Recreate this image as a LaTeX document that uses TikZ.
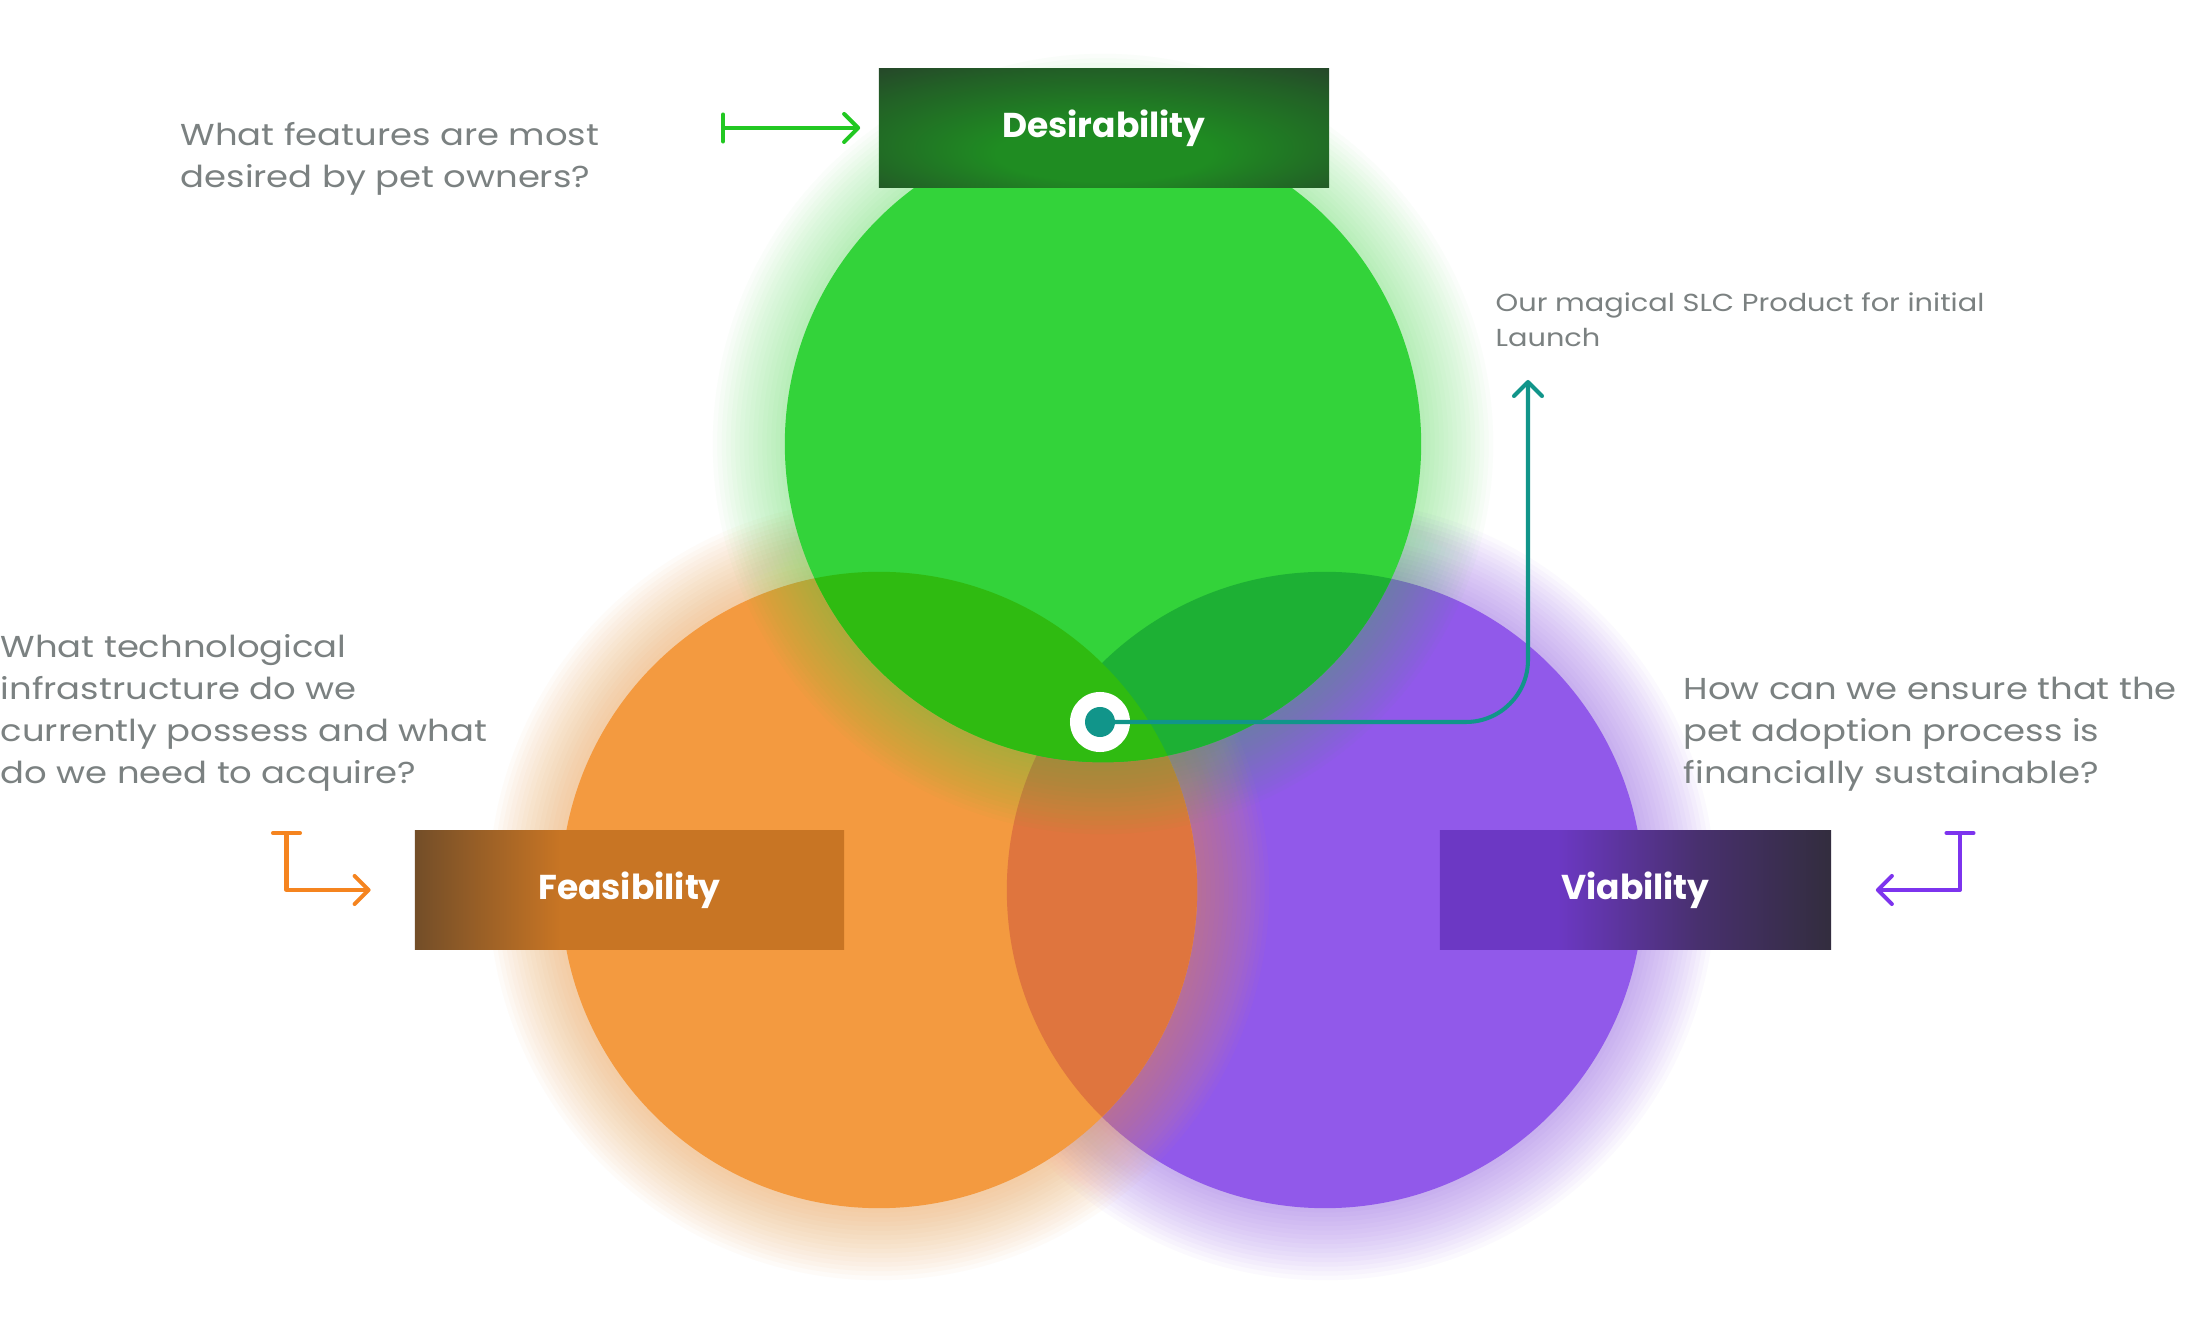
\documentclass[tikz,border=0pt]{standalone}
\usepackage{fontspec}
\setmainfont{Poppins}
\newfontfamily\qfont{Poppins}[FakeStretch=1.17]
\usetikzlibrary{arrows.meta}
\definecolor{gr}{RGB}{51,211,58}
\definecolor{orc}{RGB}{243,154,64}
\definecolor{pu}{RGB}{145,89,234}
\definecolor{gro}{RGB}{47,187,17}
\definecolor{grp}{RGB}{29,176,52}
\definecolor{orp}{RGB}{223,117,62}
\definecolor{txtc}{RGB}{123,129,129}
\definecolor{tealc}{RGB}{17,149,138}
\definecolor{garrow}{RGB}{34,200,34}
\definecolor{oarrow}{RGB}{245,132,31}
\definecolor{parrow}{RGB}{125,52,238}
\definecolor{desIn}{RGB}{31,140,34}
\definecolor{desMid}{RGB}{34,96,38}
\definecolor{desOut}{RGB}{40,54,44}
\definecolor{fDark}{RGB}{46,45,44}
\definecolor{fMid}{RGB}{120,80,40}
\definecolor{fOr}{RGB}{200,117,36}
\definecolor{vPu}{RGB}{108,56,196}
\definecolor{vMid}{RGB}{72,48,110}
\definecolor{vDark}{RGB}{44,44,48}
\pgfdeclareradialshading{desShade}{\pgfpoint{0bp}{-14bp}}{color(0bp)=(desIn); color(12bp)=(desIn); color(30bp)=(desMid); color(44bp)=(desOut); color(50bp)=(desOut)}
\pgfdeclarehorizontalshading{feasShade}{100bp}{color(0bp)=(fDark); color(12bp)=(fDark); color(26bp)=(fMid); color(42bp)=(fOr); color(100bp)=(fOr)}
\pgfdeclarehorizontalshading{viaShade}{100bp}{color(0bp)=(vPu); color(40bp)=(vPu); color(58bp)=(vMid); color(80bp)=(vDark); color(100bp)=(vDark)}
\tikzset{
  box/.style={rectangle, inner sep=0pt, shade, text=white, font=\bfseries\fontsize{9.8}{11}\selectfont},
  qtext/.style={align=left, inner sep=0pt, text=txtc, anchor=west, font=\qfont\fontsize{8.6}{11.95}\selectfont},
  stext/.style={align=left, inner sep=0pt, text=txtc, anchor=west, font=\qfont\fontsize{7.0}{9.9}\selectfont},
  conn/.style={line width=1.15pt, line cap=round, line join=round},
  tipend/.style={-{Straight Barb[length=0.14cm,width=0.28cm,round]}},
  bartip/.style={{Bar[width=0.27cm,round]}-{Straight Barb[length=0.14cm,width=0.28cm,round]}}
}
\begin{document}
\begin{tikzpicture}[x=0.01cm,y=-0.01cm]
\fill[white] (0,0) rectangle (2205,1334);
\useasboundingbox (0,0) rectangle (2205,1334);
\coordinate (cD) at (1103,444);
\coordinate (cF) at (879,890);
\coordinate (cV) at (1325,890);
% purple
\foreach \k in {1,...,16}{\pgfmathsetmacro{\rr}{3.18+\k*0.045}\fill[pu, opacity=0.035] (cV) circle [radius=\rr cm];}
\fill[pu] (cV) circle [radius=3.18cm];
% orange
\foreach \k in {1,...,16}{\pgfmathsetmacro{\rr}{3.18+\k*0.045}\fill[orc, opacity=0.035] (cF) circle [radius=\rr cm];}
\fill[orc] (cF) circle [radius=3.18cm];
\begin{scope}
\clip (cF) circle [radius=3.18cm];
\fill[orp] (cV) circle [radius=3.18cm];
\end{scope}
% green
\foreach \k in {1,...,16}{\pgfmathsetmacro{\rr}{3.18+\k*0.045}\fill[gr, opacity=0.022] (cD) circle [radius=\rr cm];}
\fill[gr] (cD) circle [radius=3.18cm];
\begin{scope}
\clip (cD) circle [radius=3.18cm];
\fill[grp] (cV) circle [radius=3.18cm];
\fill[gro] (cF) circle [radius=3.18cm];
\end{scope}
% boxes
\node[box, shading=desShade, minimum width=4.5cm, minimum height=1.18cm] (des) at (1104,128) {\raisebox{-0.03cm}{Desirability}};
\node[box, shading=feasShade, minimum width=4.29cm, minimum height=1.18cm] (feas) at (629.5,890) {\raisebox{-0.03cm}{Feasibility}};
\node[box, shading=viaShade, minimum width=3.91cm, minimum height=1.18cm] (via) at (1635.5,890) {\raisebox{-0.03cm}{Viability}};
% texts
\node[qtext] (q1) at (180,159) {What features are most\\desired by pet owners?};
\node[qtext] (q2) at (0,713) {What technological\\infrastructure do we\\currently possess and what\\do we need to acquire?};
\node[qtext] (q3) at (1683,734) {How can we ensure that the\\pet adoption process is\\financially sustainable?};
\node[stext] (slct) at (1495,320) {Our magical SLC Product for initial\\Launch};
% arrows
\coordinate (dA) at (721,128);
\draw[conn, garrow, bartip, shorten >=0.18cm] (dA) -- (des.west);
\coordinate (oA) at (286.5,831);
\draw[conn, oarrow, bartip, shorten >=0.435cm] (oA) |- (feas.west);
\coordinate (pA) at (1960,831);
\draw[conn, parrow, bartip, shorten >=0.44cm] (pA) |- (via.east);
% marker
\node[circle, fill=white, minimum size=0.6cm, inner sep=0pt] (ring) at (1100,722) {};
\node[circle, fill=tealc, minimum size=0.3cm, inner sep=0pt] (dot) at (ring.center) {};
\coordinate (slcTip) at (1528,380);
\draw[conn, tealc, tipend, rounded corners=0.62cm] (dot.center) -| (slcTip);
\end{tikzpicture}
\end{document}
